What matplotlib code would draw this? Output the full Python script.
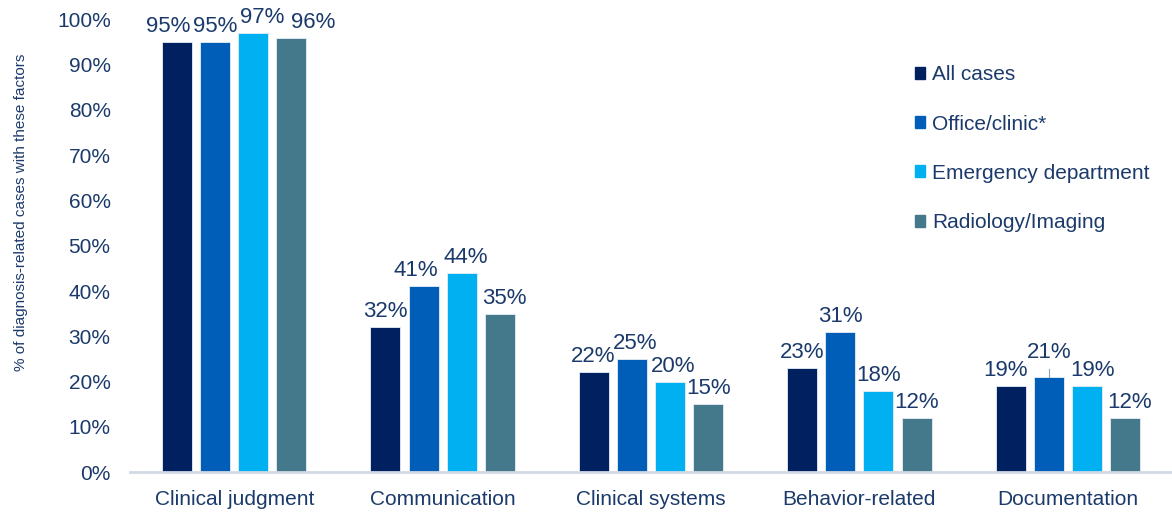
import numpy as np
import matplotlib.pyplot as plt
from matplotlib.patches import Patch

plt.rcParams['font.family'] = ['Liberation Sans', 'DejaVu Sans']

categories = ["Clinical judgment", "Communication", "Clinical systems",
              "Behavior-related", "Documentation"]
series = ["All cases", "Office/clinic*", "Emergency department", "Radiology/Imaging"]
all_cases = [95, 32, 22, 23, 19]
office = [95, 41, 25, 31, 21]
emergency = [97, 44, 20, 18, 19]
radiology = [96, 35, 15, 12, 12]
colors = ["#002060", "#005EB8", "#00B0F0", "#44798C"]
text_color = "#1B3A6B"

# horizontal nudges (pixels) for the value labels so neighbours don't collide
label_dx = [[-9, 0, 9, 22],
            [0, -8, 4, 4],
            [-1, 3, 3, 0],
            [0, 0, 0, 0],
            [-5, 0, 6, 5]]
label_dy = [[0] * 4, [0] * 4, [0] * 4, [0] * 4, [0, 9, 0, 0]]

fig = plt.figure(figsize=(11.72, 5.12), dpi=100)
ax = fig.add_axes([0.111, 0.078, 0.889, 0.884])

x = np.arange(len(categories))
width = 0.144
step = 0.183
px = 72 / fig.dpi
for i, (vals, c, name) in enumerate(zip([all_cases, office, emergency, radiology], colors, series)):
    xpos = x + (i - 1.5) * step
    ax.bar(xpos, vals, width, color=c, label=name,
           edgecolor="#e8eef5", linewidth=0.6)
    for j, (xp, v) in enumerate(zip(xpos, vals)):
        ax.annotate(f"{v}%", xy=(xp, v),
                    xytext=(label_dx[j][i] * px, (5 + label_dy[j][i]) * px),
                    textcoords="offset points", ha="center", va="bottom",
                    fontsize=16, color=text_color)

# leader line from the raised Documentation / Office label
ax.plot([x[4] - 0.5 * step] * 2, [office[4], office[4] + 1.8], color="#8aa0bb", lw=0.8)

ax.set_xlim(-0.5, 4.5)
ax.set_ylim(0, 100)
ax.set_yticks(np.arange(0, 101, 10))
ax.set_yticklabels([f"{t}%" for t in range(0, 101, 10)])
ax.set_xticks(x)
ax.set_xticklabels(categories)
ax.tick_params(axis="both", length=0, labelsize=15, labelcolor=text_color)
ax.tick_params(axis="y", pad=14)
ax.tick_params(axis="x", pad=13)

for s in ["top", "right", "left"]:
    ax.spines[s].set_visible(False)
ax.spines["bottom"].set_color("#d3d9e3")
ax.spines["bottom"].set_linewidth(2)

fig.text(0.018, 0.586, "% of diagnosis-related cases with these factors",
         rotation=90, ha="center", va="center", fontsize=11, color=text_color)

handles = [Patch(color=c) for c in colors]
leg = ax.legend(handles, series, loc="upper left", bbox_to_anchor=(0.735, 0.94),
                frameon=False, fontsize=15, handlelength=0.5, handleheight=0.5,
                handletextpad=0.35, labelspacing=1.45)
for t in leg.get_texts():
    t.set_color(text_color)

fig.savefig("out.png", dpi=100)
